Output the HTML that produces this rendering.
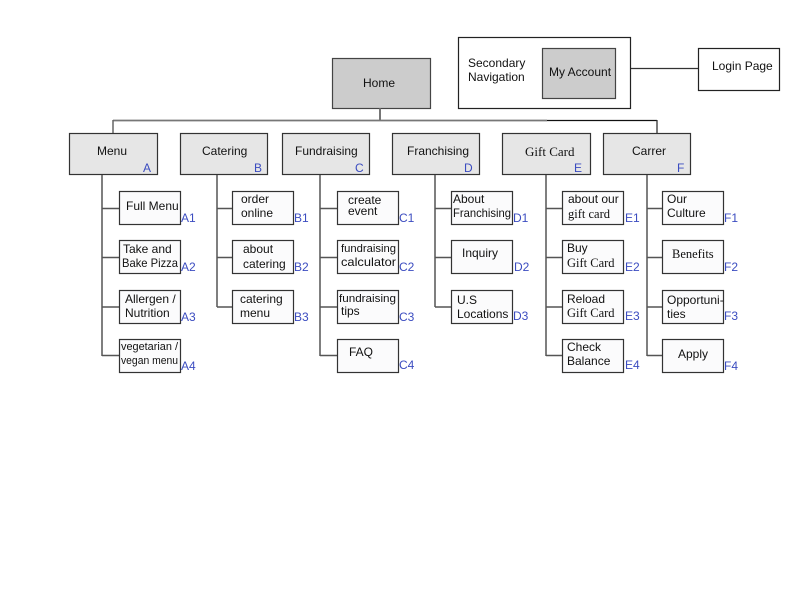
<!DOCTYPE html>
<html><head><meta charset="utf-8"><style>
html,body{margin:0;padding:0;background:#fff;}
svg{display:block;}
text{font-family:"Liberation Sans",sans-serif;font-size:12px;fill:#111;}
.s{font-family:"Liberation Serif",serif;}
.b{fill:#3b4cc0;}
.sm{font-size:11px;}
</style></head><body>
<svg width="792" height="612" viewBox="0 0 792 612" xmlns="http://www.w3.org/2000/svg">
<rect x="0" y="0" width="792" height="612" fill="#fff"/>
<!-- top -->
<rect x="332.5" y="58.5" width="98" height="50" fill="#cccccc" stroke="#444" stroke-width="1.2"/>
<text x="363" y="87">Home</text>
<rect x="458.5" y="37.5" width="172" height="71" fill="#fff" stroke="#222" stroke-width="1.2"/>
<text x="468" y="67">Secondary</text>
<text x="468" y="81">Navigation</text>
<rect x="542.5" y="48.5" width="73" height="50" fill="#cccccc" stroke="#444" stroke-width="1.2"/>
<text x="549" y="76">My Account</text>
<line x1="631" y1="68.5" x2="698" y2="68.5" stroke="#333" stroke-width="1.3"/>
<rect x="698.5" y="48.5" width="81" height="42" fill="#fff" stroke="#222" stroke-width="1.2"/>
<text x="712" y="70">Login Page</text>
<!-- trunk -->
<line x1="380" y1="108" x2="380" y2="121" stroke="#666" stroke-width="1.8"/>
<line x1="113" y1="120.5" x2="547" y2="120.5" stroke="#777" stroke-width="1.8"/>
<line x1="547" y1="120.5" x2="657" y2="120.5" stroke="#111" stroke-width="1.3"/>
<line x1="113" y1="120" x2="113" y2="133" stroke="#666" stroke-width="1.5"/>
<line x1="657" y1="120" x2="657" y2="133" stroke="#333" stroke-width="1.3"/>
<g fill="#e6e6e6" stroke="#333" stroke-width="1.2">
<rect x="69.5" y="133.5" width="88" height="41"/>
<rect x="180.5" y="133.5" width="87" height="41"/>
<rect x="282.5" y="133.5" width="87" height="41"/>
<rect x="392.5" y="133.5" width="87" height="41"/>
<rect x="502.5" y="133.5" width="88" height="41"/>
<rect x="603.5" y="133.5" width="87" height="41"/>
</g>
<text x="97" y="155">Menu</text>
<text x="202" y="155">Catering</text>
<text x="295" y="155">Fundraising</text>
<text x="407" y="155">Franchising</text>
<text x="525" y="156" class="s" style="font-size:13px">Gift Card</text>
<text x="632" y="155">Carrer</text>
<text x="143" y="172" class="b">A</text>
<text x="254" y="172" class="b">B</text>
<text x="355" y="172" class="b">C</text>
<text x="464" y="172" class="b">D</text>
<text x="574" y="172" class="b">E</text>
<text x="677" y="172" class="b">F</text>
<!-- connectors -->
<g stroke="#555" stroke-width="1.5" fill="none">
<path d="M102 175 V356 M102 208.5 H119 M102 257.5 H119 M102 307 H119 M102 355.5 H119"/>
<path d="M217 175 V307 M217 208.5 H232 M217 257.5 H232 M217 307 H232"/>
<path d="M320 175 V356 M320 208.5 H337 M320 257.5 H337 M320 307 H337 M320 355.5 H337"/>
<path d="M435 175 V307 M435 208.5 H451 M435 257.5 H451 M435 307 H451"/>
<path d="M546 175 V356 M546 208.5 H562 M546 257.5 H562 M546 307 H562 M546 355.5 H562"/>
<path d="M647 175 V356 M647 208.5 H662 M647 257.5 H662 M647 307 H662 M647 355.5 H662"/>
</g>
<!-- child boxes -->
<g fill="#fbfbfc" stroke="#333" stroke-width="1.2">
<rect x="119.5" y="191.5" width="61" height="33"/>
<rect x="119.5" y="240.5" width="61" height="33"/>
<rect x="119.5" y="290.5" width="61" height="33"/>
<rect x="119.5" y="339.5" width="61" height="33"/>
<rect x="232.5" y="191.5" width="61" height="33"/>
<rect x="232.5" y="240.5" width="61" height="33"/>
<rect x="232.5" y="290.5" width="61" height="33"/>
<rect x="337.5" y="191.5" width="61" height="33"/>
<rect x="337.5" y="240.5" width="61" height="33"/>
<rect x="337.5" y="290.5" width="61" height="33"/>
<rect x="337.5" y="339.5" width="61" height="33"/>
<rect x="451.5" y="191.5" width="61" height="33"/>
<rect x="451.5" y="240.5" width="61" height="33"/>
<rect x="451.5" y="290.5" width="61" height="33"/>
<rect x="562.5" y="191.5" width="61" height="33"/>
<rect x="562.5" y="240.5" width="61" height="33"/>
<rect x="562.5" y="290.5" width="61" height="33"/>
<rect x="562.5" y="339.5" width="61" height="33"/>
<rect x="662.5" y="191.5" width="61" height="33"/>
<rect x="662.5" y="240.5" width="61" height="33"/>
<rect x="662.5" y="290.5" width="61" height="33"/>
<rect x="662.5" y="339.5" width="61" height="33"/>
</g>
<!-- A -->
<text x="126" y="210">Full Menu</text>
<text x="123" y="253">Take and</text>
<text x="122" y="267" textLength="56" lengthAdjust="spacingAndGlyphs">Bake Pizza</text>
<text x="125" y="303">Allergen /</text>
<text x="125" y="317">Nutrition</text>
<text x="121" y="350" class="sm" textLength="57" lengthAdjust="spacingAndGlyphs">vegetarian /</text>
<text x="121" y="364" class="sm" textLength="57" lengthAdjust="spacingAndGlyphs">vegan menu</text>
<text x="181" y="222" class="b">A1</text>
<text x="181" y="271" class="b">A2</text>
<text x="181" y="321" class="b">A3</text>
<text x="181" y="370" class="b">A4</text>
<!-- B -->
<text x="241" y="203">order</text>
<text x="241" y="217">online</text>
<text x="243" y="253">about</text>
<text x="243" y="268">catering</text>
<text x="240" y="303">catering</text>
<text x="240" y="317">menu</text>
<text x="294" y="222" class="b">B1</text>
<text x="294" y="271" class="b">B2</text>
<text x="294" y="321" class="b">B3</text>
<!-- C -->
<text x="348" y="204">create</text>
<text x="348" y="215">event</text>
<text x="341" y="252" class="sm" textLength="55" lengthAdjust="spacingAndGlyphs">fundraising</text>
<text x="341" y="266" textLength="55" lengthAdjust="spacingAndGlyphs">calculator</text>
<text x="339" y="302" class="sm" textLength="57" lengthAdjust="spacingAndGlyphs">fundraising</text>
<text x="341" y="315">tips</text>
<text x="349" y="356">FAQ</text>
<text x="399" y="222" class="b">C1</text>
<text x="399" y="271" class="b">C2</text>
<text x="399" y="321" class="b">C3</text>
<text x="399" y="369" class="b">C4</text>
<!-- D -->
<text x="453" y="203">About</text>
<text x="453" y="217" textLength="58" lengthAdjust="spacingAndGlyphs">Franchising</text>
<text x="462" y="257">Inquiry</text>
<text x="457" y="304">U.S</text>
<text x="457" y="318">Locations</text>
<text x="513" y="222" class="b">D1</text>
<text x="514" y="271" class="b">D2</text>
<text x="513" y="320" class="b">D3</text>
<!-- E -->
<text x="568" y="203">about our</text>
<text x="568" y="218" class="s" style="font-size:12.5px">gift card</text>
<text x="567" y="252">Buy</text>
<text x="567" y="267" class="s" style="font-size:12.5px">Gift Card</text>
<text x="567" y="303">Reload</text>
<text x="567" y="317" class="s" style="font-size:12.5px">Gift Card</text>
<text x="567" y="351">Check</text>
<text x="567" y="365">Balance</text>
<text x="625" y="222" class="b">E1</text>
<text x="625" y="271" class="b">E2</text>
<text x="625" y="320" class="b">E3</text>
<text x="625" y="369" class="b">E4</text>
<!-- F -->
<text x="667" y="203">Our</text>
<text x="667" y="217">Culture</text>
<text x="672" y="258" class="s" style="font-size:12.5px">Benefits</text>
<text x="667" y="304">Opportuni-</text>
<text x="667" y="318">ties</text>
<text x="678" y="358">Apply</text>
<text x="724" y="222" class="b">F1</text>
<text x="724" y="271" class="b">F2</text>
<text x="724" y="320" class="b">F3</text>
<text x="724" y="370" class="b">F4</text>
</svg>
</body></html>
